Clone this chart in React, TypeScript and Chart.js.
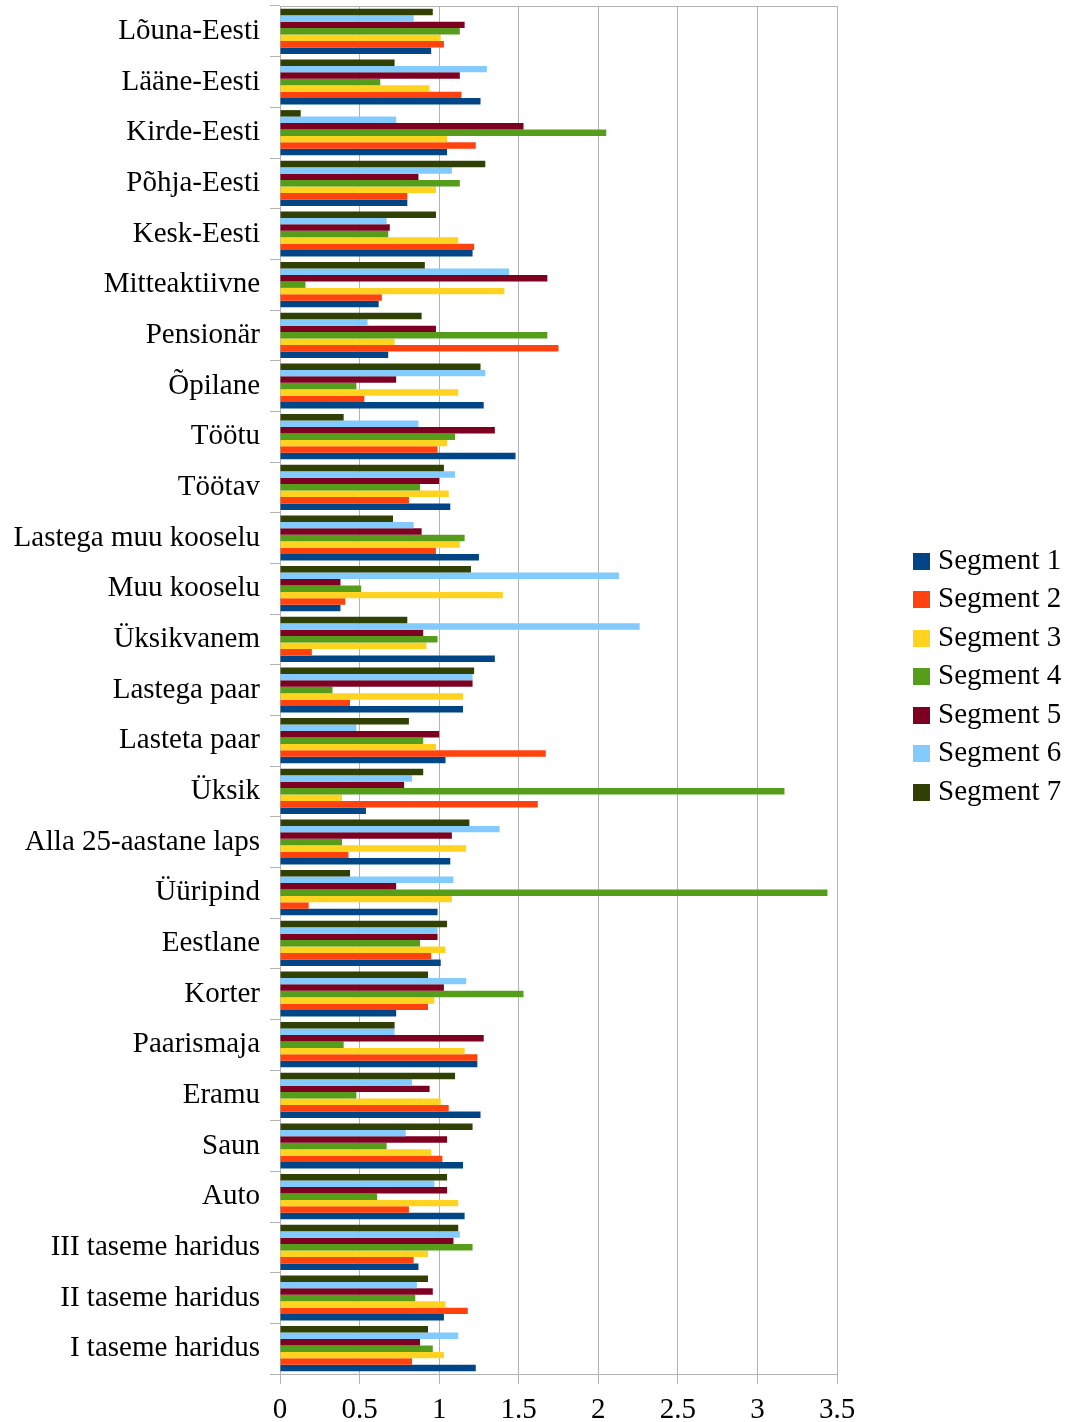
import React, { useEffect, useRef } from "react";
import { Chart, registerables } from "chart.js";

Chart.register(...registerables);

const categories = [
  "Lõuna-Eesti",
  "Lääne-Eesti",
  "Kirde-Eesti",
  "Põhja-Eesti",
  "Kesk-Eesti",
  "Mitteaktiivne",
  "Pensionär",
  "Õpilane",
  "Töötu",
  "Töötav",
  "Lastega muu kooselu",
  "Muu kooselu",
  "Üksikvanem",
  "Lastega paar",
  "Lasteta paar",
  "Üksik",
  "Alla 25-aastane laps",
  "Üüripind",
  "Eestlane",
  "Korter",
  "Paarismaja",
  "Eramu",
  "Saun",
  "Auto",
  "III taseme haridus",
  "II taseme haridus",
  "I taseme haridus",
];

const segment1 = [0.95, 1.26, 1.05, 0.8, 1.21, 0.62, 0.68, 1.28, 1.48, 1.07, 1.25, 0.38, 1.35, 1.15, 1.04, 0.54, 1.07, 0.99, 1.01, 0.73, 1.24, 1.26, 1.15, 1.16, 0.87, 1.03, 1.23];
const segment2 = [1.03, 1.14, 1.23, 0.8, 1.22, 0.64, 1.75, 0.53, 0.99, 0.81, 0.98, 0.41, 0.2, 0.44, 1.67, 1.62, 0.43, 0.18, 0.95, 0.93, 1.24, 1.06, 1.02, 0.81, 0.84, 1.18, 0.83];
const segment3 = [1.01, 0.94, 1.05, 0.98, 1.12, 1.41, 0.72, 1.12, 1.05, 1.06, 1.13, 1.4, 0.92, 1.15, 0.98, 0.39, 1.17, 1.08, 1.04, 0.97, 1.16, 1.01, 0.95, 1.12, 0.93, 1.04, 1.03];
const segment4 = [1.13, 0.63, 2.05, 1.13, 0.68, 0.16, 1.68, 0.48, 1.1, 0.88, 1.16, 0.51, 0.99, 0.33, 0.9, 3.17, 0.39, 3.44, 0.88, 1.53, 0.4, 0.48, 0.67, 0.61, 1.21, 0.85, 0.96];
const segment5 = [1.16, 1.13, 1.53, 0.87, 0.69, 1.68, 0.98, 0.73, 1.35, 1.0, 0.89, 0.38, 0.9, 1.21, 1.0, 0.78, 1.08, 0.73, 0.99, 1.03, 1.28, 0.94, 1.05, 1.05, 1.09, 0.96, 0.88];
const segment6 = [0.84, 1.3, 0.73, 1.08, 0.67, 1.44, 0.55, 1.29, 0.87, 1.1, 0.84, 2.13, 2.26, 1.21, 0.48, 0.83, 1.38, 1.09, 0.99, 1.17, 0.72, 0.83, 0.79, 0.97, 1.13, 0.86, 1.12];
const segment7 = [0.96, 0.72, 0.13, 1.29, 0.98, 0.91, 0.89, 1.26, 0.4, 1.03, 0.71, 1.2, 0.8, 1.22, 0.81, 0.9, 1.19, 0.44, 1.05, 0.93, 0.72, 1.1, 1.21, 1.05, 1.12, 0.93, 0.93];

const segmentLabels = ["Segment 1", "Segment 2", "Segment 3", "Segment 4", "Segment 5", "Segment 6", "Segment 7"];
const segmentColors = ["#004586", "#ff420e", "#ffd320", "#579d1c", "#7e0021", "#83caff", "#314004"];
const segmentValues = [segment1, segment2, segment3, segment4, segment5, segment6, segment7];

const xTickLabels = ["0", "0.5", "1", "1.5", "2", "2.5", "3", "3.5"];

const FONT_FAMILY = "'Liberation Serif', 'Times New Roman', serif";
const FONT_SIZE = 29;
const GRID = "#b3b3b3";

const framePlugin = {
  id: "frameAndLegend",
  afterDraw(chart: any) {
    const { ctx, chartArea } = chart;
    ctx.save();
    // top border of plot area
    ctx.strokeStyle = GRID;
    ctx.lineWidth = 1;
    ctx.beginPath();
    ctx.moveTo(chartArea.left, Math.round(chartArea.top) + 0.5);
    ctx.lineTo(chartArea.right, Math.round(chartArea.top) + 0.5);
    ctx.stroke();

    // legend
    const x = chartArea.right + 76;
    const cy = (chartArea.top + chartArea.bottom) / 2 - 13.5;
    const gap = 38.5;
    const n = segmentLabels.length;
    ctx.font = `${FONT_SIZE}px ${FONT_FAMILY}`;
    ctx.textBaseline = "middle";
    ctx.textAlign = "left";
    segmentLabels.forEach((lab, i) => {
      const y = cy + (i - (n - 1) / 2) * gap;
      ctx.fillStyle = segmentColors[i];
      ctx.fillRect(x, Math.round(y - 8.5), 17, 17);
      ctx.fillStyle = "#000";
      ctx.fillText(lab, x + 25, y);
    });
    ctx.restore();
  },
};

export default function App() {
  const canvasRef = useRef<HTMLCanvasElement | null>(null);

  useEffect(() => {
    const canvas = canvasRef.current;
    if (!canvas) return;
    // datasets in reverse so Segment 1 sits at the bottom of each group
    const datasets = segmentLabels
      .map((label, i) => ({
        label,
        data: segmentValues[i],
        backgroundColor: segmentColors[i],
        borderWidth: 0,
        categoryPercentage: 0.89,
        barPercentage: 1.0,
      }))
      .reverse();

    const chart = new Chart(canvas, {
      type: "bar",
      data: { labels: categories, datasets },
      options: {
        indexAxis: "y",
        animation: false,
        responsive: false,
        devicePixelRatio: 1,
        layout: { padding: { top: 6, right: 239, left: 0, bottom: 0 } },
        plugins: {
          legend: { display: false },
          tooltip: { enabled: false },
        },
        scales: {
          x: {
            type: "linear",
            min: 0,
            max: 3.5,
            ticks: {
              stepSize: 0.5,
              color: "#000",
              padding: 9,
              font: { family: FONT_FAMILY, size: FONT_SIZE },
              callback: (_v: any, i: number) => xTickLabels[i],
              maxRotation: 0,
            },
            grid: { color: GRID, lineWidth: 1, drawTicks: true, tickLength: 10 },
            border: { color: GRID, width: 1 },
            afterFit: (scale: any) => {
              scale.height = 48;
              scale.paddingLeft = 0;
              scale.paddingRight = 0;
            },
          },
          y: {
            type: "category",
            ticks: {
              color: "#000",
              padding: 10,
              autoSkip: false,
              font: { family: FONT_FAMILY, size: FONT_SIZE },
            },
            grid: {
              color: GRID,
              lineWidth: 1,
              drawOnChartArea: false,
              drawTicks: true,
              tickLength: 10,
              offset: true,
            },
            border: { color: GRID, width: 1 },
            afterFit: (scale: any) => {
              scale.width = 280;
              scale.paddingTop = 0;
              scale.paddingBottom = 0;
            },
          },
        },
      },
      plugins: [framePlugin],
    });
    return () => chart.destroy();
  }, []);

  return (
    <div style={{ position: "absolute", left: 0, top: 0, width: 1076, height: 1422, background: "#fff" }}>
      <canvas ref={canvasRef} width={1076} height={1422} style={{ display: "block", width: 1076, height: 1422 }} />
    </div>
  );
}
